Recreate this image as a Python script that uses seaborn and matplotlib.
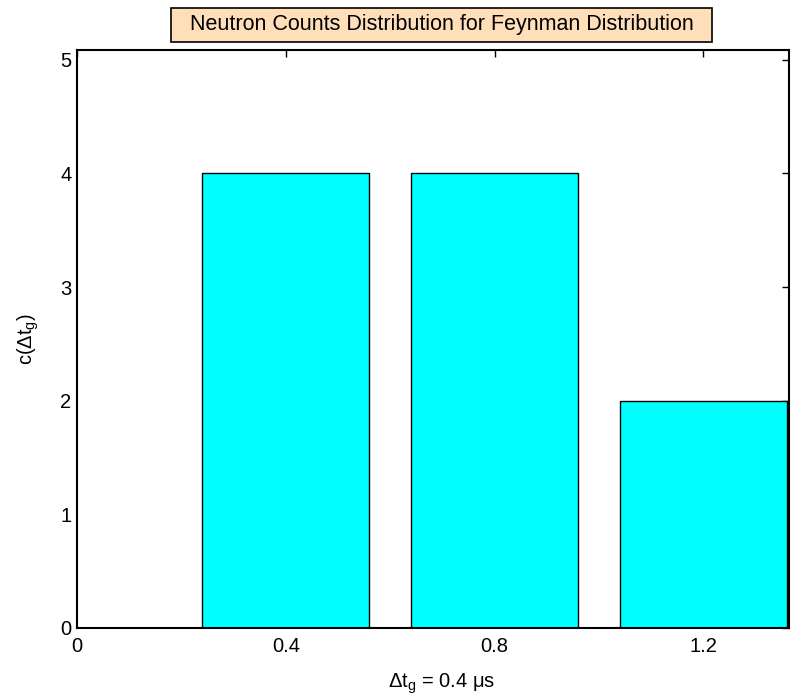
import matplotlib
matplotlib.use("Agg")
import matplotlib.pyplot as plt
import seaborn as sns
import pandas as pd

# Data
bin_centers = [0.4, 0.8, 1.2]
counts = [4, 4, 2]
x_ticks = [0, 0.4, 0.8, 1.2]
x_tick_labels = ["0", "0.4", "0.8", "1.2"]
y_ticks = [0, 1, 2, 3, 4, 5]

sns.set_theme(style="white")
plt.rcParams['font.family'] = ['Liberation Sans', 'DejaVu Sans']
plt.rcParams['mathtext.fontset'] = 'custom'
plt.rcParams['mathtext.rm'] = 'Liberation Sans'
plt.rcParams['mathtext.it'] = 'Liberation Sans'
plt.rcParams['mathtext.default'] = 'regular'

df = pd.DataFrame({"t": bin_centers, "c": counts})

fig = plt.figure(figsize=(8.06, 7.0), dpi=100)
ax = fig.add_axes([0.0955, 0.1033, 0.979 - 0.0955, 0.929 - 0.1033])

sns.barplot(data=df, x="t", y="c", native_scale=True, width=0.8,
            color="#00FFFF", saturation=1, edgecolor="black", linewidth=1.0, ax=ax)

ax.set_xlim(0, 1.364)
ax.set_ylim(0, 5.09)
ax.set_xticks(x_ticks)
ax.set_xticklabels(x_tick_labels)
ax.set_yticks(y_ticks)
ax.tick_params(direction="in", length=5, width=1, top=True, right=True,
               labelsize=14.5, colors="black")
ax.tick_params(axis="x", pad=7)
ax.tick_params(axis="y", pad=4)
for s in ax.spines.values():
    s.set_visible(True)
    s.set_color("black")
    s.set_linewidth(1.5)

ax.set_xlabel(r"Δt$_g$ = 0.4 μs", fontsize=14.5, color="black", labelpad=6)
ax.xaxis.set_label_coords(0.512, -0.075)
ax.set_ylabel(r"c(Δt$_g$)", fontsize=14.5, color="black", labelpad=14)
ax.set_title("  Neutron Counts Distribution for Feynman Distribution  ", fontsize=15.5,
             color="black", pad=14, x=0.512,
             bbox=dict(boxstyle="square,pad=0.3", facecolor="#FFDFBA",
                       edgecolor="black", linewidth=1.2))

fig.savefig("out.png", dpi=100)
